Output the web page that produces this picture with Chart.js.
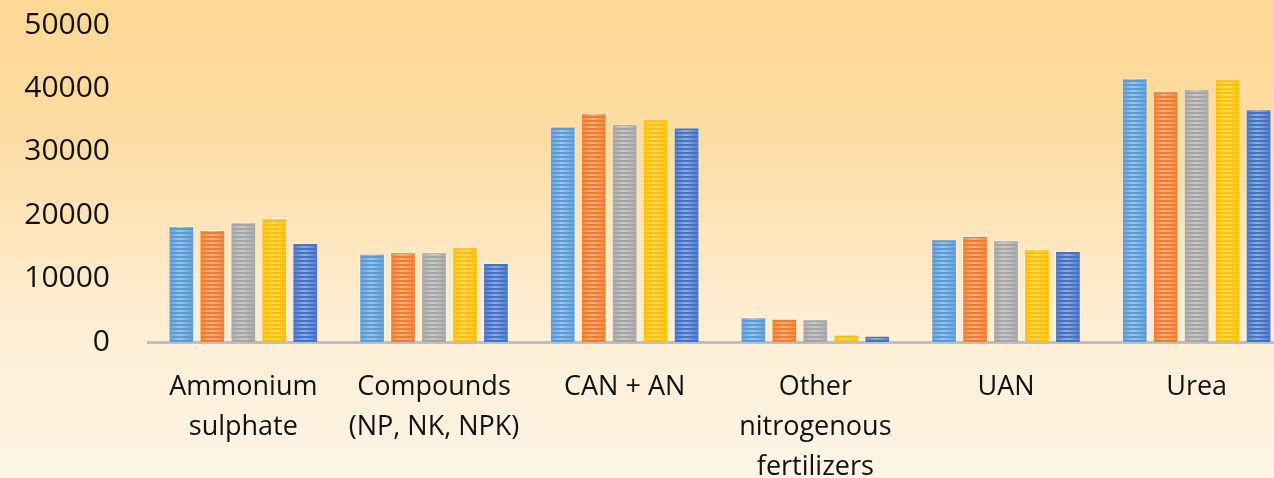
<!DOCTYPE html>
<html>
<head>
<meta charset="utf-8">
<script src="https://cdn.jsdelivr.net/npm/chart.js@4/dist/chart.umd.min.js"></script>
<style>
html,body{margin:0;padding:0;background:#FEF3E0;overflow:hidden;width:1274px;height:478px;}
#wrap{width:1292px;height:478px;position:relative;}
</style>
</head>
<body>
<div id="wrap"><canvas id="c"></canvas></div>
<script>
const categories = [
  ["Ammonium", "sulphate"],
  ["Compounds", "(NP, NK, NPK)"],
  ["CAN + AN"],
  ["Other", "nitrogenous", "fertilizers"],
  ["UAN"],
  ["Urea"]
];
const series1 = [18300, 13900, 34000, 3900, 16200, 41600];
const series2 = [17650, 14150, 36100, 3650, 16700, 39550];
const series3 = [18900, 14150, 34350, 3600, 16050, 39950];
const series4 = [19550, 14950, 35150, 1200, 14650, 41450];
const series5 = [15600, 12450, 33850, 1000, 14350, 36700];
const seriesNames = ["Series 1", "Series 2", "Series 3", "Series 4", "Series 5"];
const colors = ["#5B9BD5", "#ED7D31", "#A5A5A5", "#FFC000", "#4472C4"];
const yTicks = [0, 10000, 20000, 30000, 40000, 50000];

const bgPlugin = {
  id: 'bg',
  beforeDraw(chart) {
    const ctx = chart.ctx;
    const g = ctx.createLinearGradient(0, 0, 0, chart.height);
    g.addColorStop(0, '#FDD895');
    g.addColorStop(0.3, '#FDDDA4');
    g.addColorStop(0.65, '#FEEDD2');
    g.addColorStop(1, '#FEF5E6');
    ctx.save();
    ctx.fillStyle = g;
    ctx.fillRect(0, 0, chart.width, chart.height);
    ctx.restore();
  }
};

const stripePlugin = {
  id: 'stripes',
  afterDatasetsDraw(chart) {
    const ctx = chart.ctx;
    ctx.save();
    chart.data.datasets.forEach((ds, i) => {
      const meta = chart.getDatasetMeta(i);
      meta.data.forEach(el => {
        const left = el.x - el.width / 2;
        const top = Math.min(el.y, el.base);
        const h = Math.abs(el.base - el.y);
        const w = el.width;
        ctx.save();
        ctx.beginPath();
        ctx.rect(left + 1, top + 1, w - 2, h - 1);
        ctx.clip();
        const g = ctx.createLinearGradient(left, 0, left + w, 0);
        g.addColorStop(0, 'rgba(255,255,255,0.05)');
        g.addColorStop(0.45, 'rgba(255,255,255,0.42)');
        g.addColorStop(1, 'rgba(255,255,255,0.05)');
        for (let y = el.base - 2; y > top; y -= 4) {
          ctx.fillStyle = g;
          ctx.fillRect(left, y - 2, w, 2);
        }
        ctx.restore();
      });
    });
    ctx.restore();
  }
};

const allSeries = [series1, series2, series3, series4, series5];

new Chart(document.getElementById('c'), {
  type: 'bar',
  data: {
    labels: categories,
    datasets: allSeries.map((d, i) => ({
      label: seriesNames[i],
      data: d,
      backgroundColor: colors[i],
      borderColor: 'rgba(255,255,255,0.35)',
      borderWidth: 1,
      categoryPercentage: 0.812,
      barPercentage: 0.83
    }))
  },
  options: {
    responsive: true,
    maintainAspectRatio: false,
    animation: false,
    layout: { padding: { left: 15, right: 0, top: 0, bottom: 0 } },
    plugins: { legend: { display: false }, tooltip: { enabled: false } },
    scales: {
      x: {
        grid: { display: false, drawTicks: false },
        border: { display: true, color: '#BFBFBF', width: 3 },
        ticks: {
          color: '#111',
          font: { family: 'Open Sans', size: 27, lineHeight: 1.48 },
          padding: 25,
          maxRotation: 0,
          autoSkip: false
        },
        afterFit(scale) {
          scale.height = 136;
          scale.paddingLeft = 0;
          scale.paddingRight = 0;
        }
      },
      y: {
        min: 0,
        max: 50000,
        afterBuildTicks(scale) { scale.ticks = yTicks.map(v => ({ value: v })); },
        grid: { display: false, drawTicks: false },
        border: { display: false },
        ticks: {
          color: '#111',
          font: { family: 'Open Sans', size: 30 },
          padding: 38,
          callback: (v) => String(v)
        },
        afterFit(scale) {
          scale.width = 133;
          scale.paddingTop = 25;
          scale.paddingBottom = 0;
        }
      }
    }
  },
  plugins: [bgPlugin, stripePlugin]
});
</script>
</body>
</html>
